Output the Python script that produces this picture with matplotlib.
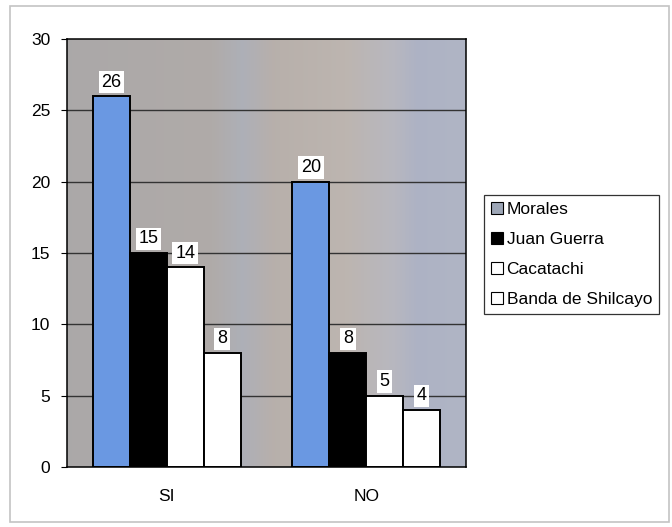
import numpy as np
import matplotlib
matplotlib.use("Agg")
import matplotlib.pyplot as plt
from matplotlib.patches import Rectangle, Patch
from matplotlib.colors import LinearSegmentedColormap

plt.rcParams['font.family'] = ['Liberation Sans', 'DejaVu Sans']

categories = ["SI", "NO"]
series_names = ["Morales", "Juan Guerra", "Cacatachi", "Banda de Shilcayo"]
morales = [26, 20]
juan_guerra = [15, 8]
cacatachi = [14, 5]
banda_de_shilcayo = [8, 4]
y_ticks = [0, 5, 10, 15, 20, 25, 30]

series_values = [morales, juan_guerra, cacatachi, banda_de_shilcayo]
face_colors = ["#6A98E2", "#000000", "#FFFFFF", "#FFFFFF"]
legend_colors = ["#9DA6B6", "#000000", "#FFFFFF", "#FFFFFF"]

fig = plt.figure(figsize=(6.72, 5.27), dpi=100)
fig.patch.set_facecolor("white")

# outer chart frame
fig.patches.append(Rectangle((10 / 672, 1 - 522 / 527), 659 / 672, 516 / 527,
                             transform=fig.transFigure, fill=False,
                             edgecolor="#C4C4C4", linewidth=1.2))

ax = fig.add_axes([67 / 672, 1 - 467 / 527, 399 / 672, 428 / 527])

# plot area background: soft vertical bands of gray, beige and blue-gray
stops = [(0.00, (0.67, 0.66, 0.66)),
         (0.36, (0.69, 0.67, 0.66)),
         (0.44, (0.68, 0.69, 0.72)),
         (0.52, (0.72, 0.69, 0.67)),
         (0.70, (0.74, 0.71, 0.69)),
         (0.82, (0.72, 0.72, 0.75)),
         (0.88, (0.68, 0.70, 0.77)),
         (1.00, (0.69, 0.71, 0.77))]
cmap = LinearSegmentedColormap.from_list("bg", stops)
ax.imshow(np.linspace(0, 1, 400)[None, :], aspect="auto", cmap=cmap,
          extent=(-0.5, 1.5, 0, 30), zorder=0)

ax.set_xlim(-0.5, 1.5)
ax.set_ylim(0, 30)

for y in y_ticks[1:-1]:
    ax.axhline(y, color="#333333", linewidth=1.0, zorder=1)

width = 0.185
x = np.arange(len(categories))
offsets = [-1.5, -0.5, 0.5, 1.5]
for vals, off, fc in zip(series_values, offsets, face_colors):
    bars = ax.bar(x + off * width, vals, width=width, color=fc,
                  edgecolor="black", linewidth=1.4, zorder=2)
    for b, v in zip(bars, vals):
        ax.annotate(str(v), (b.get_x() + b.get_width() / 2, v),
                    xytext=(0, 4), textcoords="offset points",
                    ha="center", va="bottom", fontsize=13, zorder=4,
                    bbox=dict(boxstyle="square,pad=0.15", fc="white", ec="none"))

ax.set_yticks(y_ticks)
ax.set_yticklabels([str(t) for t in y_ticks], fontsize=12.5)
ax.set_xticks(x)
ax.set_xticklabels(categories, fontsize=12.5)
ax.tick_params(axis="x", length=0, pad=16)
ax.tick_params(axis="y", length=4, width=0.8, pad=8, direction="out")
for s in ax.spines.values():
    s.set_linewidth(1.1)
    s.set_color("black")

handles = [Patch(facecolor=c, edgecolor="black", linewidth=0.8) for c in legend_colors]
leg = fig.legend(handles, series_names, loc="upper left",
                 bbox_to_anchor=(484 / 672, 1 - 195 / 527),
                 bbox_transform=fig.transFigure, fontsize=12.5,
                 frameon=True, fancybox=False, edgecolor="black",
                 handlelength=0.7, handleheight=0.7, handletextpad=0.2,
                 labelspacing=0.85, borderpad=0.4, borderaxespad=0)
leg.get_frame().set_linewidth(0.9)

fig.savefig("out.png", dpi=100, facecolor="white")
